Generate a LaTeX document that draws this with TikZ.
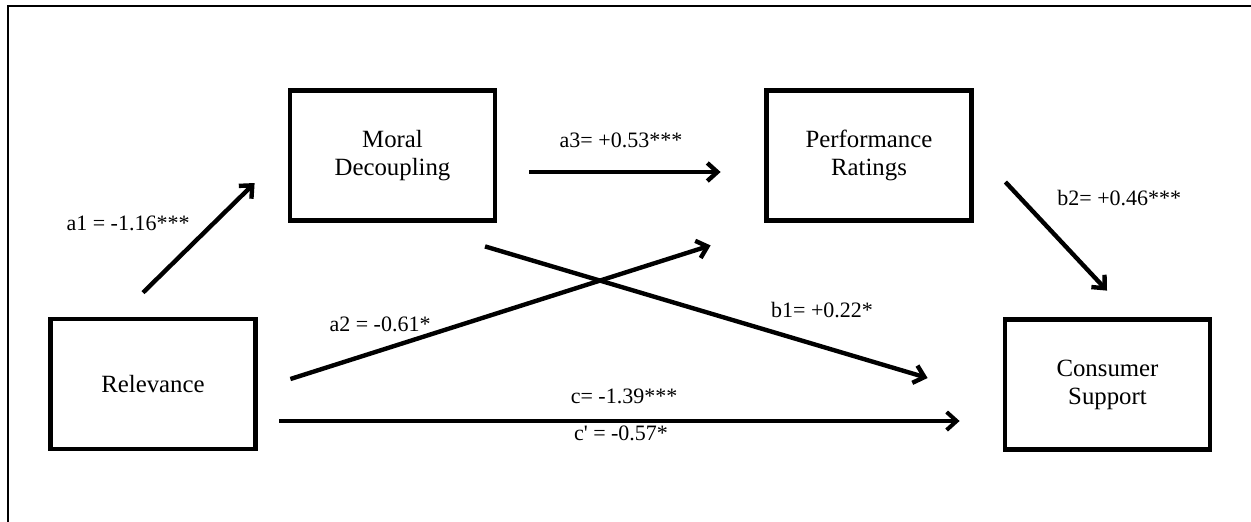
\documentclass[tikz,border=0pt]{standalone}
\usepackage{fontspec}
\setmainfont{Liberation Serif}
\usetikzlibrary{arrows.meta}
\begin{document}
\begin{tikzpicture}[x=0.5pt, y=-0.5pt,
    var/.style={draw, line width=2.4pt, minimum width=102.5pt, minimum height=65pt,
        align=center, font=\fontsize{12.4}{14}\selectfont},
    path/.style={line width=2.2pt, -{Straight Barb[length=5pt, width=9pt]}},
    coef/.style={font=\fontsize{11}{13}\selectfont, inner sep=0pt}]
    \useasboundingbox (0,0) rectangle (1251,521);
    \clip (0,0) rectangle (1251,521);
    \draw[line width=1.1pt] (8,6) rectangle (1270,540);
        \node[var] (rel) at (153,384) {Relevance};
        \node[var] (md) at (392.5,155.5) {Moral\\Decoupling};
        \node[var] (pr) at (869,155.5) {Performance\\Ratings};
        \node[var] (cs) at (1107.5,384.5) {Consumer\\Support};
        \draw[path] ([shift={(-10,-24)}]rel.north) -- ([shift={(-33,27.5)}]md.west);
        \draw[path] ([shift={(32,16.5)}]md.east) -- ([shift={(-43.5,16.5)}]pr.west);
        \draw[path] ([shift={(32.5,-5)}]rel.east) -- ([shift={(-53.5,22.5)}]pr.south west);
        \draw[path] ([shift={(92.5,23.5)}]md.south) -- ([shift={(-75,-6.5)}]cs.west);
        \draw[path] ([shift={(31.5,26.5)}]pr.east) -- ([shift={(-0.5,-26.5)}]cs.north);
        \draw[path, line width=2pt] ([shift={(21.5,37)}]rel.east) -- ([shift={(-43,36.5)}]cs.west);
        \node[coef] at (128,223) (A1) {a1 = -1.16***};
        \node[coef] at (621,140) (A3) {a3= +0.53***};
        \node[coef, anchor=west] at (1057,198) (B2) {b2= +0.46***};
        \node[coef] at (380,324) (A2) {a2 = -0.61*};
        \node[coef] at (822,310) (B1) {b1= +0.22*};
        \node[coef] at (624,396) (C) {c= -1.39***};
        \node[coef] at (621,433) (Cp) {c\textquotesingle{} = -0.57*};
\end{tikzpicture}
\end{document}
